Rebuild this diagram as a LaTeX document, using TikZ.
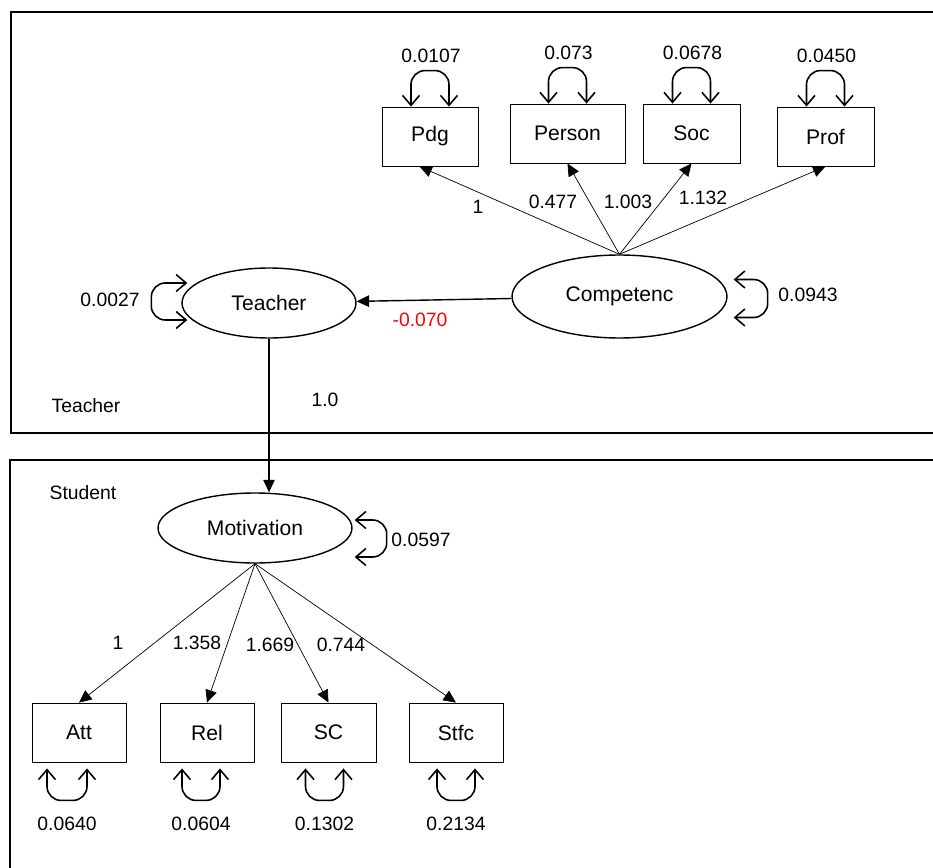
\documentclass[tikz,border=0pt]{standalone}
\usepackage{fontspec}
\setmainfont{Liberation Sans}
\usetikzlibrary{arrows.meta,shapes.geometric,calc}

\begin{document}
\begin{tikzpicture}[x=0.02cm, y=-0.02cm,
        latent/.style={ellipse, draw, line width=0.8pt, inner sep=0pt, font=\fontsize{12}{14}\selectfont},
        indicator/.style={rectangle, draw, line width=0.5pt, inner sep=0pt, minimum height=1.18cm, font=\fontsize{12}{14}\selectfont},
        coef/.style={inner sep=1pt, font=\fontsize{11}{13}\selectfont},
        load/.style={-{Triangle[length=2.5mm,width=2.3mm]}, line width=0.4pt},
        resid/.style={{Straight Barb[length=2mm,width=3.4mm]}-{Straight Barb[length=2mm,width=3.4mm]}, line width=0.9pt, rounded corners=8pt}]

    \useasboundingbox (0,0) rectangle (933,868);

    \draw[line width=0.8pt] (933,12) -- (11,12) -- (11,433) -- (933,433);
    \draw[line width=0.8pt] (933,460) -- (10,460) -- (10,868);
    \node[coef] (lvlT) at (86,406) {Teacher};
    \node[coef] (lvlS) at (83,493) {Student};

    \node[latent, minimum width=4.3cm, minimum height=1.66cm] (comp) at (619.5,296.5) {Competenc};
    \node[latent, minimum width=3.48cm, minimum height=1.4cm] (teach) at (269,303) {Teacher};
    \node[latent, minimum width=3.88cm, minimum height=1.4cm] (motiv) at (255,528) {Motivation};

    \node[indicator, minimum width=1.92cm] (pdg) at (430,136.5) {Pdg};
    \node[indicator, minimum width=2.3cm] (person) at (567.5,133.5) {Person};
    \node[indicator, minimum width=1.94cm] (soc) at (691.5,133.5) {Soc};
    \node[indicator, minimum width=1.94cm] (prof) at (825.5,136.5) {Prof};

    \node[indicator, minimum width=1.88cm] (att) at (79,732.5) {Att};
    \node[indicator, minimum width=1.88cm] (rel) at (207,732.5) {Rel};
    \node[indicator, minimum width=1.9cm] (sc) at (328.5,732.5) {SC};
    \node[indicator, minimum width=1.88cm] (stfc) at (456,732.5) {Stfc};

    \foreach \n/\v in {pdg/0.0107, person/0.073, soc/0.0678, prof/0.0450} {
        \draw[resid] ($(\n.north)+(-19,0)$) -- ++(0,-36) -- ++(38,0) -- ++(0,36);
        \node[coef] (v\n) at ($(\n.north)+(1,-51)$) {\v};
    }
    \foreach \n/\a/\w/\v in {att/-32/40/0.0640, rel/-25/38/0.0604, sc/-23/38/0.1302, stfc/-19/38/0.2134} {
        \draw[resid] ($(\n.south)+(\a,6)$) -- ++(0,32) -- ++(\w,0) -- ++(0,-32);
        \node[coef] (v\n) at ($(\n.south)+(\a,61)+(\w/2,0)$) {\v};
    }

    \draw[resid] ($(teach.west)+(6,-20)$) -- ++(-36,0) -- ++(0,37) -- ++(36,0);
    \node[coef] (vteach) at (110,300) {0.0027};
    \draw[resid] ($(comp.east)+(6,-17)$) -- ++(34,0) -- ++(0,38) -- ++(-34,0);
    \node[coef] (vcomp) at (808,295) {0.0943};
    \draw[resid] ($(motiv.east)+(2,-8)$) -- ++(32,0) -- ++(0,37) -- ++(-32,0);
    \node[coef] (vmotiv) at (421,540) {0.0597};

    \draw[load] (comp.north) -- ([xshift=-6pt]pdg.south);
    \draw[load] (comp.north) -- (person.south);
    \draw[load] (comp.north) -- (soc.south);
    \draw[load] (comp.north) -- (prof.south);
    \node[coef] (lpdg) at (478,207) {1};
    \node[coef] (lperson) at (553,202) {0.477};
    \node[coef] (lsoc) at (628,202) {1.003};
    \node[coef] (lprof) at (703,198) {1.132};

    \draw[load, line width=0.8pt] (comp) -- (teach);
    \node[coef, text=red] (lteach) at (420,320) {-0.070};
    \draw[load, line width=0.6pt] (teach.south) -- (teach.south |- motiv.north);
    \node[coef] (lmotiv) at (325,400) {1.0};

    \draw[load] (motiv.south) -- (att.north);
    \draw[load] (motiv.south) -- (rel.north);
    \draw[load] (motiv.south) -- (sc.north);
    \draw[load] (motiv.south) -- (stfc.north);
    \node[coef] (latt) at (118,643) {1};
    \node[coef] (lrel) at (197,643) {1.358};
    \node[coef] (lsc) at (270,645) {1.669};
    \node[coef] (lstfc) at (341,645) {0.744};
\end{tikzpicture}
\end{document}
